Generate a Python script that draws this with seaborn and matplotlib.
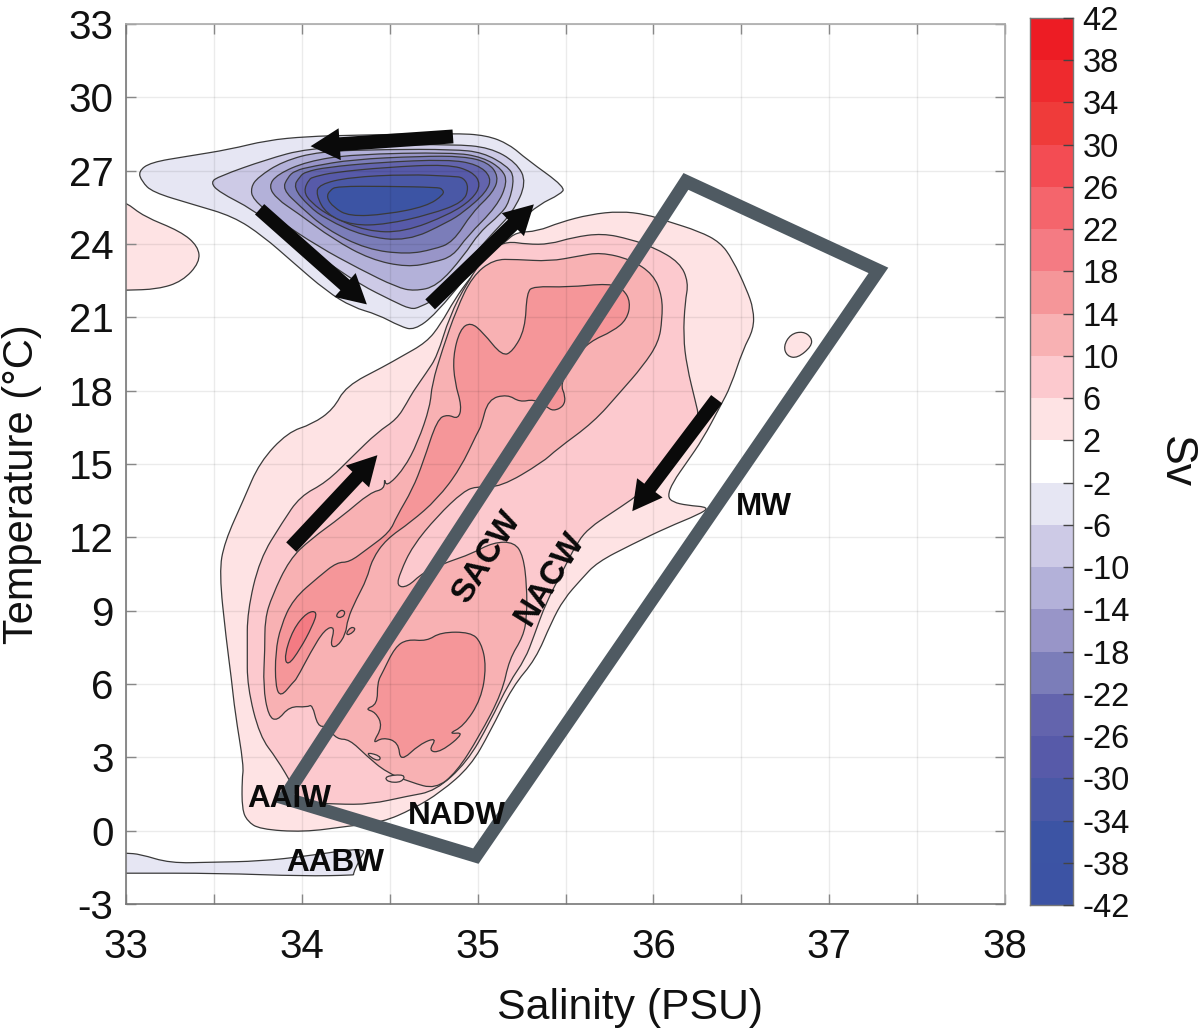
import numpy as np
import matplotlib
matplotlib.use('Agg')
import matplotlib.pyplot as plt
from matplotlib.colors import ListedColormap
from matplotlib.patches import PathPatch, Polygon
from matplotlib.path import Path
import seaborn as sns

# Colorbar levels and band colours, top to bottom
cbar_ticks = [42, 38, 34, 30, 26, 22, 18, 14, 10, 6, 2, -2, -6, -10, -14, -18, -22, -26, -30, -34, -38, -42]
band_colors = ['#ed1c24', '#ee2a2e', '#ef3b3a', '#f34c53', '#f4656c', '#f47b83', '#f59699', '#f8b1b3', '#fcc9ce', '#fee3e4',
               '#ffffff',
               '#e6e6f3', '#cdcae6', '#b3b1d9', '#9895c8', '#7b7db9', '#6364ad', '#575aa9', '#4a58a6', '#3c54a4', '#3c53a4']

# Contour outlines, as (salinity, temperature)
pos2_main = [(34.56,19.37),(34.71,19.98),(34.79,20.72),(34.87,21.74),(34.96,22.64),(35.07,23.58),(35.16,24.11),(35.22,24.48),
             (35.34,24.52),(35.47,24.89),(35.64,25.21),(35.81,25.34),(35.96,25.21),(36.08,24.93),(36.26,24.52),(36.38,24.07),
             (36.45,23.37),(36.53,22.15),(36.57,21.33),(36.57,20.51),(36.51,19.69),(36.44,18.18),(36.38,17.36),(36.28,16.01),
             (36.19,15.07),(36.11,14.25),(36.08,13.68),(36.11,13.44),(36.19,13.31),(36.32,13.23),(36.26,12.94),(36.08,12.41),
             (35.88,11.72),(35.68,10.98),(35.59,10.29),(35.49,9.47),(35.42,8.53),(35.33,7.01),(35.20,5.91),(35.07,4.03),
             (34.96,2.64),(34.79,1.57),(34.63,0.88),(34.46,0.35),(34.26,0.18),(34.01,-0.06),(33.76,0.06),(33.69,0.39),
             (33.66,0.88),(33.66,2.11),(33.67,2.64),(33.62,4.85),(33.60,6.20),(33.57,7.83),(33.53,10.57),(33.56,11.80),
             (33.67,13.56),(33.76,15.07),(33.92,16.30),(34.06,16.63),(34.18,17.24),(34.25,18.18),(34.47,19.00)]
pos2_west = [(32.9,25.9),(33.0,25.71),(33.10,25.13),(33.31,24.52),(33.41,23.91),(33.42,23.25),(33.32,22.47),(33.18,22.15),(33.0,22.11),(32.9,22.1)]
pos2_spot = [(36.74,19.82),(36.78,20.31),(36.85,20.43),(36.90,20.18),(36.90,19.82),(36.82,19.33),(36.76,19.41)]

pos6 = [(33.69,8.94),(33.76,11.10),(33.89,12.62),(33.99,13.68),(34.14,14.25),(34.29,15.32),(34.43,16.30),(34.54,16.83),
        (34.60,17.53),(34.63,17.93),(34.71,18.75),(34.77,19.41),(34.84,21.04),(34.94,22.43),(35.07,23.78),(35.17,24.11),
        (35.28,23.99),(35.41,23.99),(35.54,24.27),(35.71,24.44),(35.87,24.19),(36.00,23.87),(36.15,23.25),(36.20,22.43),
        (36.18,21.62),(36.17,20.23),(36.19,19.00),(36.24,17.53),(36.26,16.91),(36.21,16.01),(36.07,14.79),(35.95,13.97),
        (35.88,13.56),(35.75,12.94),(35.64,12.41),(35.57,11.84),(35.49,10.70),(35.39,9.35),(35.32,7.95),(35.27,7.01),
        (35.18,6.07),(35.07,4.44),(34.94,2.80),(34.76,1.62),(34.60,1.41),(34.39,1.08),(34.20,1.08),(33.99,1.17),
        (33.95,1.82),(33.86,2.92),(33.76,3.87),(33.69,5.91),(33.69,7.42)]

pos10 = [(33.79,8.65),(33.83,9.59),(33.93,11.10),(34.05,11.92),(34.23,12.86),(34.39,13.84),(34.47,13.97),(34.47,14.46),
         (34.48,14.05),(34.58,14.79),(34.66,15.89),(34.73,17.36),(34.74,18.26),(34.80,19.69),(34.88,21.33),(34.97,22.68),
         (35.09,23.37),(35.22,23.37),(35.41,23.29),(35.57,23.50),(35.70,23.66),(35.87,23.37),(36.00,22.76),(36.05,21.86),
         (36.05,20.92),(36.03,19.98),(35.94,19.00),(35.81,17.93),(35.66,16.71),(35.45,15.60),(35.37,15.07),(35.13,14.05),
         (35.00,14.09),(34.92,13.89),(34.77,12.86),(34.63,11.64),(34.56,10.57),(34.54,10.00),(34.60,9.96),(34.69,10.57),
         (34.84,11.02),(34.96,11.31),(35.09,11.80),(35.21,11.80),(35.26,11.23),(35.28,10.00),(35.28,8.77),(35.26,7.95),
         (35.18,7.01),(35.14,5.66),(35.01,3.87),(34.88,2.39),(34.76,1.70),(34.62,1.98),(34.48,2.39),(34.37,3.05),
         (34.27,3.74),(34.20,3.74),(34.14,4.27),(34.09,4.27),(34.06,5.17),(34.03,5.05),(33.93,5.09),(33.86,4.48),
         (33.81,4.68),(33.78,5.91),(33.79,7.42)]

pos14_arm = [(35.28,22.03),(35.32,22.27),(35.51,22.23),(35.75,22.39),(35.83,22.15),(35.87,21.62),(35.85,20.92),(35.77,20.43),
             (35.64,20.02),(35.54,19.28),(35.47,18.26),(35.50,17.77),(35.49,17.36),(35.43,17.16),(35.39,17.36),(35.32,17.65),
             (35.24,17.53),(35.17,17.85),(35.06,17.65),(35.02,16.54),(35.00,16.30),(34.90,14.79),(34.77,13.56),(34.62,12.62),
             (34.48,11.92),(34.40,11.10),(34.37,10.29),(34.31,9.47),(34.26,8.65),(34.25,8.04),(34.20,7.51),(34.16,7.55),
             (34.19,8.36),(34.13,8.24),(34.05,7.30),(33.97,6.20),(33.95,6.07),(33.88,5.46),(33.85,5.91),(33.85,7.30),
             (33.88,8.36),(33.95,9.47),(34.10,10.41),(34.20,10.98),(34.27,10.98),(34.37,11.51),(34.50,12.21),(34.54,12.86),
             (34.63,13.97),(34.69,15.07),(34.77,16.83),(34.83,17.03),(34.89,16.83),(34.91,17.36),(34.87,18.34),(34.86,19.41),
             (34.90,20.51),(34.96,20.80),(35.03,20.39),(35.14,19.41),(35.20,19.61),(35.27,20.51)]
pos14_blob = [(34.53,7.51),(34.60,7.83),(34.71,7.75),(34.79,8.12),(34.96,8.12),(35.02,7.71),(35.05,6.73),(35.02,5.38),
              (34.92,4.27),(34.83,3.95),(34.93,4.03),(34.79,3.21),(34.72,3.25),(34.77,3.82),(34.67,3.54),(34.56,2.80),
              (34.55,3.62),(34.46,3.82),(34.40,3.54),(34.46,4.27),(34.42,4.85),(34.36,4.97),(34.43,5.17),(34.43,6.07),(34.46,6.48)]
pos14_dots = [[(34.19,8.75),(34.22,9.05),(34.25,8.95),(34.23,8.7)],
              [(34.25,8.05),(34.28,8.35),(34.31,8.25),(34.27,8.0)]]
pos18 = [(34.09,8.98),(34.03,8.94),(33.95,8.24),(33.90,7.14),(33.92,6.73),(33.99,7.42),(34.06,8.36)]
pos6_specks = [[(34.37,3.21),(34.45,3.05),(34.44,2.84),(34.39,3.0)],
               [(34.47,2.23),(34.59,2.31),(34.57,1.98),(34.49,1.98)]]

neg2_main = [(33.07,26.97),(33.14,27.34),(33.35,27.59),(33.59,27.87),(33.80,28.24),(34.03,28.40),(34.29,28.45),(34.86,28.53),
             (35.05,28.45),(35.18,28.08),(35.28,27.46),(35.50,26.32),(35.47,26.03),(35.35,25.62),(35.24,24.93),(35.16,24.52),
             (34.96,22.88),(34.76,21.12),(34.64,20.47),(34.56,20.63),(34.43,21.12),(34.29,21.41),(34.14,22.07),(33.95,23.25),
             (33.78,24.32),(33.61,25.13),(33.38,25.62),(33.15,26.12),(33.09,26.56)]
neg2_aabw = [(32.9,-0.9),(33.0,-0.92),(33.08,-0.96),(33.25,-1.33),(33.49,-1.29),(33.76,-1.25),(34.03,-1.04),(34.37,-0.67),
             (34.33,-1.17),(34.29,-1.78),(34.30,-1.82),(34.01,-1.86),(33.53,-1.74),(33.0,-1.74),(32.9,-1.74)]
neg6 = [(33.48,26.52),(33.53,26.77),(33.80,27.46),(34.03,27.91),(34.44,28.04),(34.86,28.08),(35.07,27.95),(35.22,27.34),
        (35.28,26.52),(35.20,25.30),(35.09,24.48),(34.94,23.25),(34.79,21.86),(34.67,21.41),(34.62,21.33),(34.52,21.66),
        (34.33,22.35),(34.18,23.09),(33.95,24.19),(33.72,25.42),(33.53,26.12)]
neg10 = [(33.71,26.32),(33.75,26.73),(33.89,27.38),(34.10,27.79),(34.48,27.87),(34.86,27.87),(35.03,27.75),(35.17,27.18),
         (35.21,26.73),(35.18,25.71),(35.13,25.21),(35.01,24.48),(34.92,23.50),(34.77,22.27),(34.64,22.07),(34.54,22.23),
         (34.33,22.97),(34.09,23.91),(33.86,25.01),(33.72,25.83)]
neg14 = [(33.81,26.36),(33.86,26.85),(34.03,27.38),(34.29,27.67),(34.86,27.75),(35.03,27.55),(35.14,27.06),(35.17,26.52),
         (35.11,25.54),(34.94,24.31),(34.86,23.50),(34.75,23.25),(34.60,23.05),(34.39,23.37),(34.18,24.19),(33.97,25.30),(33.86,25.83)]
neg18 = [(33.89,26.24),(33.92,26.73),(33.96,27.00),(34.06,27.18),(34.29,27.46),(34.67,27.59),(34.92,27.59),(35.06,27.34),(35.12,26.77),
         (35.09,26.12),(34.97,25.30),(34.86,24.07),(34.75,23.78),(34.60,23.58),(34.37,23.78),(34.14,24.60),(33.99,25.54)]
neg22 = [(33.95,26.32),(33.99,26.77),(34.02,26.95),(34.14,27.14),(34.44,27.34),(34.83,27.46),(35.00,27.26),(35.08,26.73),(35.05,26.12),
         (34.92,25.30),(34.83,24.89),(34.60,24.11),(34.35,24.32),(34.14,25.01),(34.04,25.54)]
neg26 = [(34.01,26.16),(34.04,26.65),(34.07,26.75),(34.18,26.93),(34.48,27.14),(34.83,27.26),(34.97,26.97),(35.02,26.44),(34.97,25.83),
         (34.84,25.21),(34.58,24.48),(34.37,24.52),(34.16,25.13),(34.05,25.71)]
neg30 = [(34.08,26.03),(34.10,26.44),(34.27,26.73),(34.60,26.85),(34.86,26.77),(34.92,26.72),(34.95,26.32),(34.92,25.71),(34.73,25.21),
         (34.48,24.80),(34.29,24.76),(34.14,25.21)]
neg34 = [(34.14,25.91),(34.16,26.20),(34.20,26.36),(34.48,26.36),(34.77,26.32),(34.80,26.25),(34.81,26.03),(34.71,25.54),(34.48,25.21),(34.27,25.13),(34.18,25.50)]

# Selected box, arrows (tail, tip) and water mass labels
box_corners = [(33.90,1.33),(36.185,26.56),(37.28,22.92),(34.99,-1.04)]
arrows = [((34.86,28.40),(34.05,28.00)),
          ((33.76,25.42),(34.37,21.53)),
          ((34.73,21.53),(35.32,25.62)),
          ((36.36,17.65),(35.88,13.07)),
          ((33.94,11.60),(34.43,15.36))]
water_labels = ['AAIW', 'NADW', 'AABW', 'MW', 'SACW', 'NACW']
label_sal = [33.93, 34.88, 34.19, 36.63, 35.05, 35.41]
label_temp = [1.30, 0.60, -1.33, 13.23, 11.19, 10.30]
label_rot = [0, 0, 0, 0, 58, 58]
label_size = [22.7, 22.7, 22.7, 22.7, 24, 24]

sns.set_style('white')
plt.rcParams['font.family'] = ['Liberation Sans', 'DejaVu Sans']
plt.rcParams['axes.axisbelow'] = 'line'
plt.rcParams['axes.unicode_minus'] = False

fig = plt.figure(figsize=(12, 10.32), dpi=100)
ax = fig.add_axes([126/1200, 1 - 904/1032, 879/1200, 880/1032])
cax = fig.add_axes([1030/1200, 1 - 905/1032, 43/1200, 887/1032])


def add_contour(outline, color):
    # quadratic curves through the midpoints, so the outlines look smooth
    pts = np.array(outline)
    mids = (pts + np.roll(pts, -1, axis=0)) / 2
    verts = [mids[-1]]
    codes = [Path.MOVETO]
    for p, m in zip(pts, mids):
        verts += [p, m]
        codes += [Path.CURVE3, Path.CURVE3]
    ax.add_patch(PathPatch(Path(verts, codes), facecolor=color, edgecolor='#3a3a3a', lw=0.9, zorder=1))


# Draw from the outer level inwards
add_contour(pos2_main, '#fee3e4')
add_contour(pos2_west, '#fee3e4')
add_contour(pos2_spot, '#fee3e4')
add_contour(pos6, '#fcc9ce')
add_contour(pos10, '#f8b1b3')
for speck in pos6_specks:
    add_contour(speck, '#fcc9ce')
add_contour(pos14_arm, '#f59699')
add_contour(pos14_blob, '#f59699')
for dot in pos14_dots:
    add_contour(dot, '#f59699')
add_contour(pos18, '#f47b83')

add_contour(neg2_main, '#e6e6f3')
add_contour(neg2_aabw, '#e6e6f3')
add_contour(neg6, '#cdcae6')
add_contour(neg10, '#b3b1d9')
add_contour(neg14, '#9895c8')
add_contour(neg18, '#7b7db9')
add_contour(neg22, '#6364ad')
add_contour(neg26, '#575aa9')
add_contour(neg30, '#4a58a6')
add_contour(neg34, '#3c54a4')

ax.add_patch(Polygon(box_corners, closed=True, fill=False, edgecolor='#4f5a62', lw=9.5, joinstyle='miter', zorder=4))

for tail, tip in arrows:
    ax.annotate('', xy=tip, xytext=tail, zorder=5,
                arrowprops=dict(arrowstyle='simple,tail_width=10,head_width=23,head_length=21',
                                mutation_scale=1, color='#0a0a0a', lw=0, shrinkA=0, shrinkB=0))

for name, s, t, rot, size in zip(water_labels, label_sal, label_temp, label_rot, label_size):
    ax.text(s, t, name, fontsize=size, fontweight='bold', color='#0a0a0a', rotation=rot,
            ha='center', va='center', rotation_mode='anchor', zorder=6)

ax.set_xlim(33, 38)
ax.set_ylim(-3, 33)
ax.set_xticks(range(33, 39))
ax.set_xticks(np.arange(33.5, 38, 1), minor=True)
ax.set_yticks(range(-3, 34, 3))
ax.grid(True, which='both', color='black', alpha=0.08, lw=1)
ax.tick_params(which='both', direction='in', length=7, width=1, color='#888888', top=True, right=True,
               bottom=True, left=True, labelsize=29, labelcolor='#111111')
ax.tick_params(axis='x', which='major', pad=17)
ax.tick_params(axis='y', which='major', pad=9)
for spine in ax.spines.values():
    spine.set_visible(True)
    spine.set_color('#777777')
    spine.set_linewidth(1.2)
ax.spines['top'].set_color('#aaaaaa')
ax.spines['right'].set_color('#aaaaaa')
ax.set_xlabel('Salinity (PSU)', fontsize=30.8, color='#111111', va='center')
ax.set_ylabel('Temperature (°C)', fontsize=30, color='#111111', va='center')
ax.xaxis.set_label_coords(0.5734, -0.118)
ax.yaxis.set_label_coords(-0.1183, 0.477)

# Colorbar as a one column heatmap
band_index = np.arange(len(band_colors)).reshape(-1, 1)
sns.heatmap(band_index, ax=cax, cmap=ListedColormap(band_colors), cbar=False, xticklabels=False)
cax.set_axisbelow(False)
cax.yaxis.tick_right()
cax.set_yticks(range(len(cbar_ticks)))
cax.set_yticklabels(cbar_ticks, rotation=0)
cax.tick_params(axis='y', direction='in', length=7, width=1, color='#444444', labelsize=23.5, pad=7,
                labelcolor='#111111')
for spine in cax.spines.values():
    spine.set_visible(True)
    spine.set_color('#777777')
    spine.set_linewidth(1)
fig.text(1175/1200, 1 - 462/1032, 'Sv', fontsize=32, rotation=-90, ha='center', va='center', color='#111111')

fig.savefig('out.png', dpi=100)
